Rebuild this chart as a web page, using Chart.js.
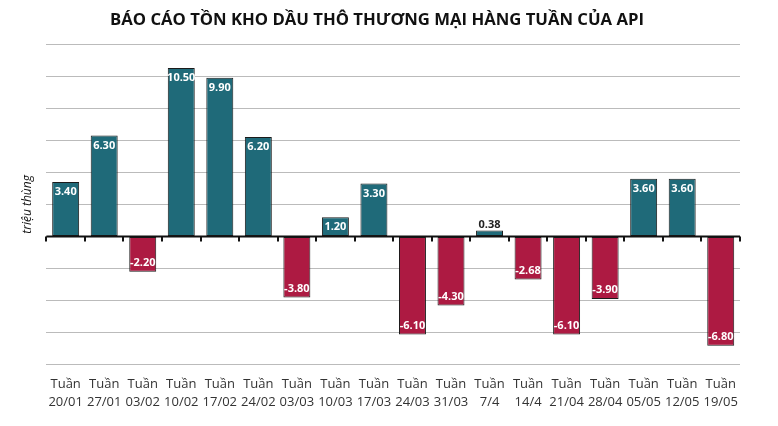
<!DOCTYPE html>
<html>
<head>
<meta charset="utf-8">
<script src="https://cdn.jsdelivr.net/npm/chart.js@4"></script>
<style>
  html, body { margin: 0; padding: 0; background: #ffffff; }
  #chart { display: block; }
</style>
</head>
<body>
<canvas id="chart" width="778" height="426"></canvas>
<script>
// ===========================
// DỮ LIỆU
// ===========================

const tuan = [
  "20/01", "27/01", "03/02", "10/02", "17/02", "24/02", "03/03", "10/03", "17/03",
  "24/03", "31/03", "7/4", "14/4", "21/04", "28/04", "05/05", "12/05", "19/05"
];

const tonKho = [
  3.40, 6.30, -2.20, 10.50, 9.90, 6.20, -3.80, 1.20, 3.30,
  -6.10, -4.30, 0.38, -2.68, -6.10, -3.90, 3.60, 3.60, -6.80
];

const yMin = -8;
const yMax = 12;
const yStep = 2;

const mauTang = "#1f6a79";
const mauGiam = "#ad1a42";

Chart.defaults.font.family = "'Open Sans', sans-serif";


// ===========================
// ĐƯỜNG 0 + VẠCH CHIA
// ===========================

const duongKhong = {
  id: "duongKhong",
  afterDatasetsDraw(chart){
    const ctx = chart.ctx;
    const x = chart.scales.x;
    const y = chart.scales.y;
    const area = chart.chartArea;
    const y0 = y.getPixelForValue(0);
    const nua = (x.getPixelForValue(1) - x.getPixelForValue(0)) / 2;

    ctx.save();
    ctx.strokeStyle = "#111111";
    ctx.lineWidth = 2;
    ctx.beginPath();
    ctx.moveTo(area.left, y0);
    ctx.lineTo(area.right, y0);
    ctx.stroke();

    for (let i = 0; i <= tuan.length; i++) {
      const px = Math.round(x.getPixelForValue(i) - nua);
      ctx.beginPath();
      ctx.moveTo(px, y0);
      ctx.lineTo(px, y0 + 5);
      ctx.stroke();
    }
    ctx.restore();
  }
};


// ===========================
// NHÃN GIÁ TRỊ
// ===========================

const nhanGiaTri = {
  id: "nhanGiaTri",
  afterDatasetsDraw(chart){
    const ctx = chart.ctx;
    const meta = chart.getDatasetMeta(0);

    ctx.save();
    ctx.font = "bold 11px 'Open Sans', sans-serif";
    ctx.textAlign = "center";
    ctx.textBaseline = "middle";

    meta.data.forEach((bar, i) => {
      const v = tonKho[i];
      const txt = v.toFixed(2);
      if (Math.abs(v) < 1) {
        ctx.fillStyle = "#222222";
        ctx.fillText(txt, bar.x, bar.y - 6);
      } else if (v > 0) {
        ctx.fillStyle = "#ffffff";
        ctx.fillText(txt, bar.x, bar.y + 10);
      } else {
        ctx.fillStyle = "#ffffff";
        ctx.fillText(txt, bar.x, bar.y - 9);
      }
    });
    ctx.restore();
  }
};


// ===========================
// BIỂU ĐỒ
// ===========================

new Chart(
  document.getElementById("chart"),
  {
    type: "bar",

    data: {
      labels: tuan.map(t => ["Tuần", t]),
      datasets: [{
        label: "Tồn kho",
        data: tonKho,
        backgroundColor: tonKho.map(v => v >= 0 ? mauTang : mauGiam),
        borderColor: "#1b1b1b",
        borderWidth: 1,
        borderSkipped: false,
        barPercentage: 0.7,
        categoryPercentage: 1
      }]
    },

    options: {
      responsive: false,
      animation: false,
      layout: {
        padding: { left: 14, right: 38, top: 0, bottom: 12 }
      },
      plugins: {
        legend: { display: false },
        tooltip: { enabled: false },
        title: {
          display: true,
          text: "BÁO CÁO TỒN KHO DẦU THÔ THƯƠNG MẠI HÀNG TUẦN CỦA API",
          color: "#111111",
          font: { size: 16.7, weight: "bold" },
          padding: { top: 10, bottom: 14 }
        }
      },
      scales: {
        x: {
          grid: { display: false },
          border: { display: false },
          ticks: {
            color: "#333333",
            font: { size: 13, lineHeight: 1.35 },
            padding: 3,
            maxRotation: 0,
            autoSkip: false
          }
        },
        y: {
          min: yMin,
          max: yMax,
          ticks: { display: false, stepSize: yStep },
          grid: { color: "#bbbbbb", drawTicks: false },
          border: { display: false },
          title: {
            display: true,
            text: "triệu thùng",
            color: "#111111",
            font: { size: 12, style: "italic" },
            padding: { top: 6, bottom: 12 }
          }
        }
      }
    },

    plugins: [duongKhong, nhanGiaTri]
  }
);
</script>
</body>
</html>
